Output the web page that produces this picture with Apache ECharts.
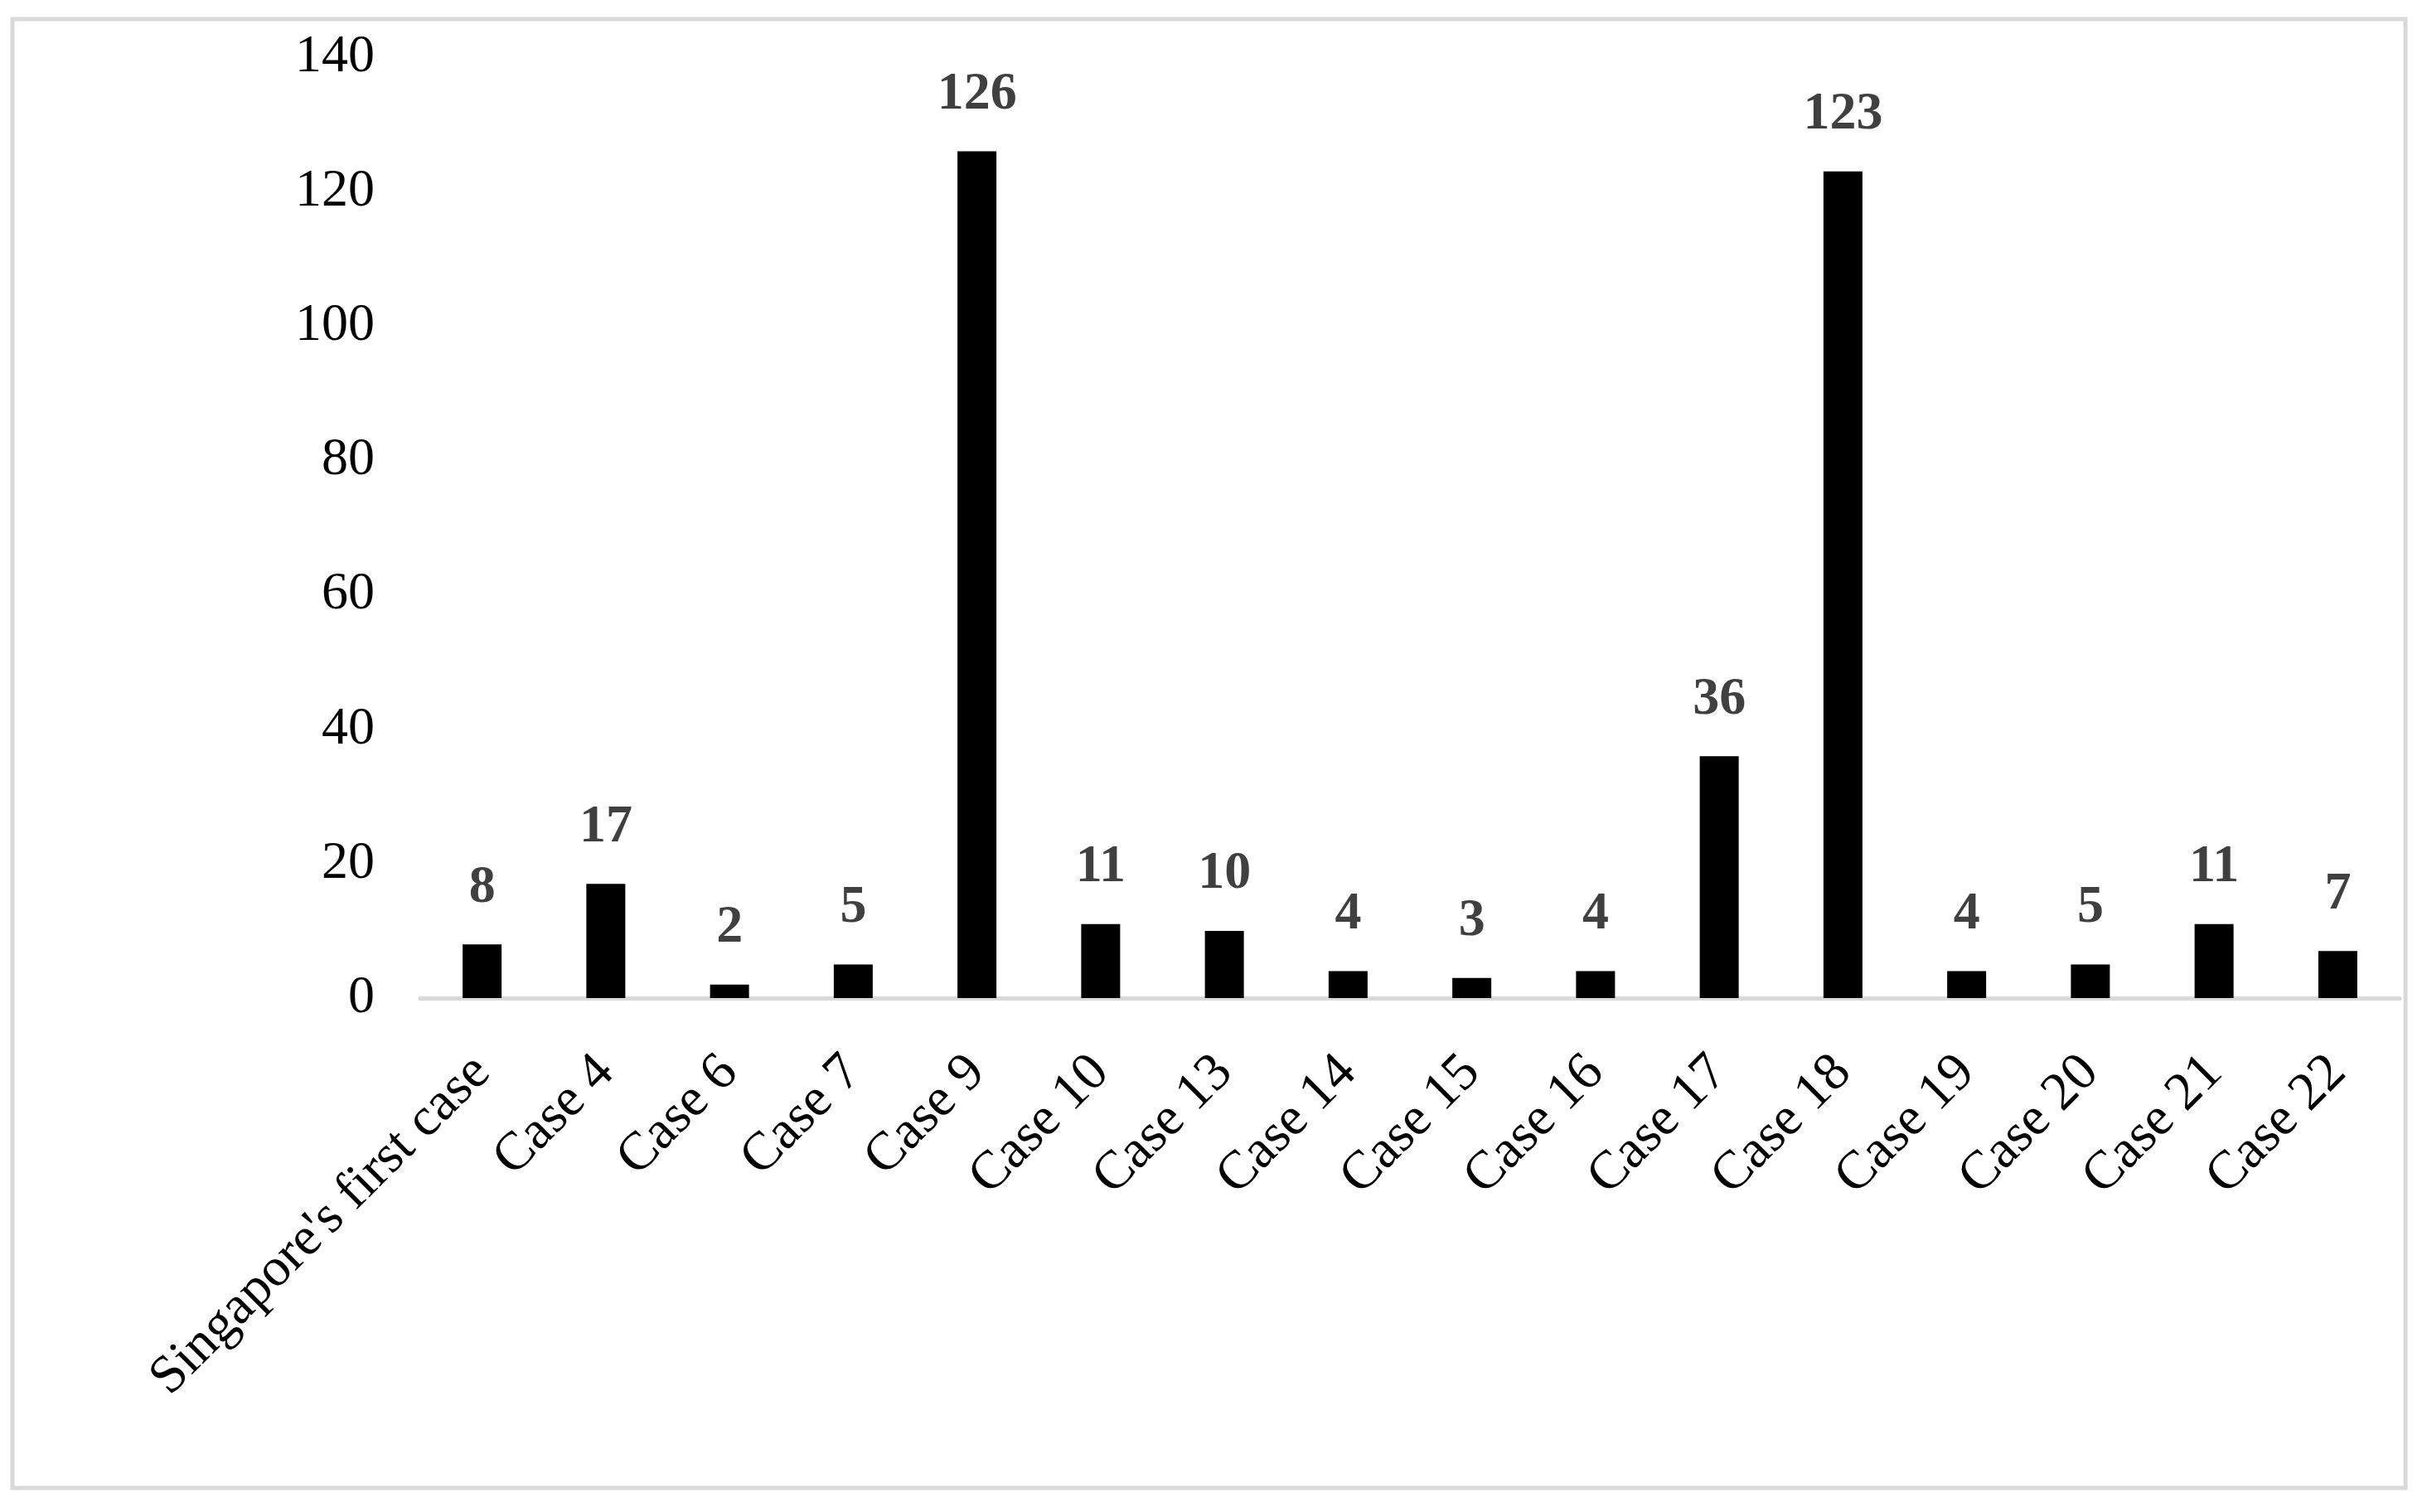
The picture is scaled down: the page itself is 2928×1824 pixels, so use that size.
<!DOCTYPE html>
<html>
<head>
<meta charset="utf-8">
<style>
html,body{margin:0;padding:0;background:#fff;}
#chart{width:2928px;height:1824px;}
</style>
<script src="https://cdn.jsdelivr.net/npm/echarts@6/dist/echarts.min.js"></script>
</head>
<body>
<div id="chart"></div>
<script>
const categories = ["Singapore's first case","Case 4","Case 6","Case 7","Case 9","Case 10","Case 13","Case 14","Case 15","Case 16","Case 17","Case 18","Case 19","Case 20","Case 21","Case 22"];
const values = [8,17,2,5,126,11,10,4,3,4,36,123,4,5,11,7];
const yTicks = [0,20,40,60,80,100,120,140];

const FONT = "'Liberation Serif','Times New Roman',serif";
const chart = echarts.init(document.getElementById('chart'), null, {renderer:'canvas'});
chart.setOption({
  backgroundColor:'#ffffff',
  animation:false,
  graphic:[{
    type:'rect',
    shape:{x:15,y:23,width:2887,height:1772},
    style:{fill:'none',stroke:'#d9d9d9',lineWidth:5},
    silent:true
  }],
  grid:{left:507,right:33,top:69,bottom:620,containLabel:false},
  xAxis:{
    type:'category',
    data:categories,
    axisLine:{show:true,lineStyle:{color:'#d9d9d9',width:5}},
    axisTick:{show:false},
    axisLabel:{rotate:45,margin:80,fontFamily:FONT,fontSize:65,color:'#000000',interval:0}
  },
  yAxis:{
    type:'value',
    min:yTicks[0],
    max:yTicks[yTicks.length-1],
    interval:20,
    axisLine:{show:false},
    axisTick:{show:false},
    splitLine:{show:false},
    axisLabel:{margin:55,fontFamily:FONT,fontSize:64,color:'#000000'}
  },
  series:[{
    type:'bar',
    data:values,
    barWidth:47,
    itemStyle:{color:'#000000'},
    label:{show:true,position:'top',distance:36,fontFamily:FONT,fontSize:64,fontWeight:'bold',color:'#404040'}
  }]
});
</script>
</body>
</html>
